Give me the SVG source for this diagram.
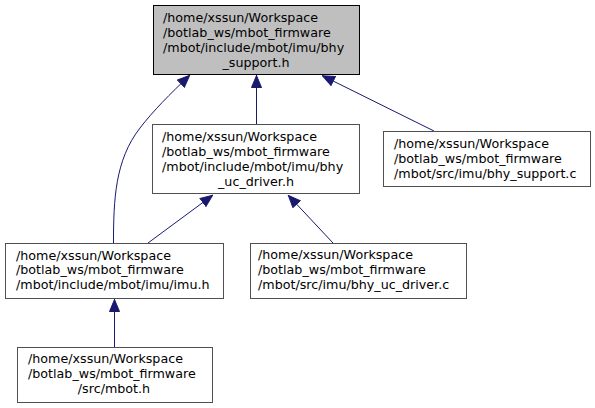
<svg xmlns="http://www.w3.org/2000/svg" width="595" height="408" viewBox="0 0 595 408">
<style>
.n{fill:#ffffff;stroke:#505050;stroke-width:1}
.r{fill:#bfbfbf;stroke:#000000;stroke-width:1}
text{font-family:"DejaVu Sans",sans-serif;font-size:12.7px;fill:#000000}
.m{text-anchor:middle}
.e{fill:none;stroke:#191970;stroke-width:1}
</style>
<defs>
<marker id="a" viewBox="0 0 13 11" refX="13" refY="5.5" markerWidth="13" markerHeight="11" markerUnits="userSpaceOnUse" orient="auto">
<path d="M0.5,0.5 L12.5,5.5 L0.5,10.5 Z" fill="#191970" stroke="#191970"/>
</marker>
</defs>
<rect width="595" height="408" fill="#ffffff"/>
<g id="edges">
<path class="e" d="M256.5,124 V75" marker-end="url(#a)"/>
<path class="e" d="M434,131 L322,75.5" marker-end="url(#a)"/>
<path class="e" d="M113.5,243 C113.5,200 115,160 140,128 C153,111 170,94 190,75" marker-end="url(#a)"/>
<path class="e" d="M148,243 L213,195" marker-end="url(#a)"/>
<path class="e" d="M333,243 L288,195" marker-end="url(#a)"/>
<path class="e" d="M114.5,347 V299" marker-end="url(#a)"/>
</g>
<g id="node1">
<rect class="r" x="153.5" y="5.5" width="206" height="69"/>
<text x="163" y="22">/home/xssun/Workspace</text>
<text x="163" y="37">/botlab_ws/mbot_firmware</text>
<text x="163" y="52">/mbot/include/mbot/imu/bhy</text>
<text x="256" y="67" class="m">_support.h</text>
</g>
<g id="node2">
<rect class="n" x="152.5" y="124.5" width="207" height="69"/>
<text x="162" y="141">/home/xssun/Workspace</text>
<text x="162" y="156">/botlab_ws/mbot_firmware</text>
<text x="162" y="171">/mbot/include/mbot/imu/bhy</text>
<text x="256" y="186" class="m">_uc_driver.h</text>
</g>
<g id="node3">
<rect class="n" x="383.5" y="131.5" width="207" height="55"/>
<text x="394" y="148">/home/xssun/Workspace</text>
<text x="394" y="163">/botlab_ws/mbot_firmware</text>
<text x="394" y="178">/mbot/src/imu/bhy_support.c</text>
</g>
<g id="node4">
<rect class="n" x="250.5" y="243.5" width="216" height="55"/>
<text x="258" y="259">/home/xssun/Workspace</text>
<text x="258" y="274">/botlab_ws/mbot_firmware</text>
<text x="258" y="289">/mbot/src/imu/bhy_uc_driver.c</text>
</g>
<g id="node5">
<rect class="n" x="5.5" y="243.5" width="218" height="55"/>
<text x="16" y="259.5">/home/xssun/Workspace</text>
<text x="16" y="274">/botlab_ws/mbot_firmware</text>
<text x="16" y="288.5">/mbot/include/mbot/imu/imu.h</text>
</g>
<g id="node6">
<rect class="n" x="17.5" y="347.5" width="195" height="55"/>
<text x="28" y="363">/home/xssun/Workspace</text>
<text x="28" y="378">/botlab_ws/mbot_firmware</text>
<text x="114" y="393" class="m">/src/mbot.h</text>
</g>
</svg>
